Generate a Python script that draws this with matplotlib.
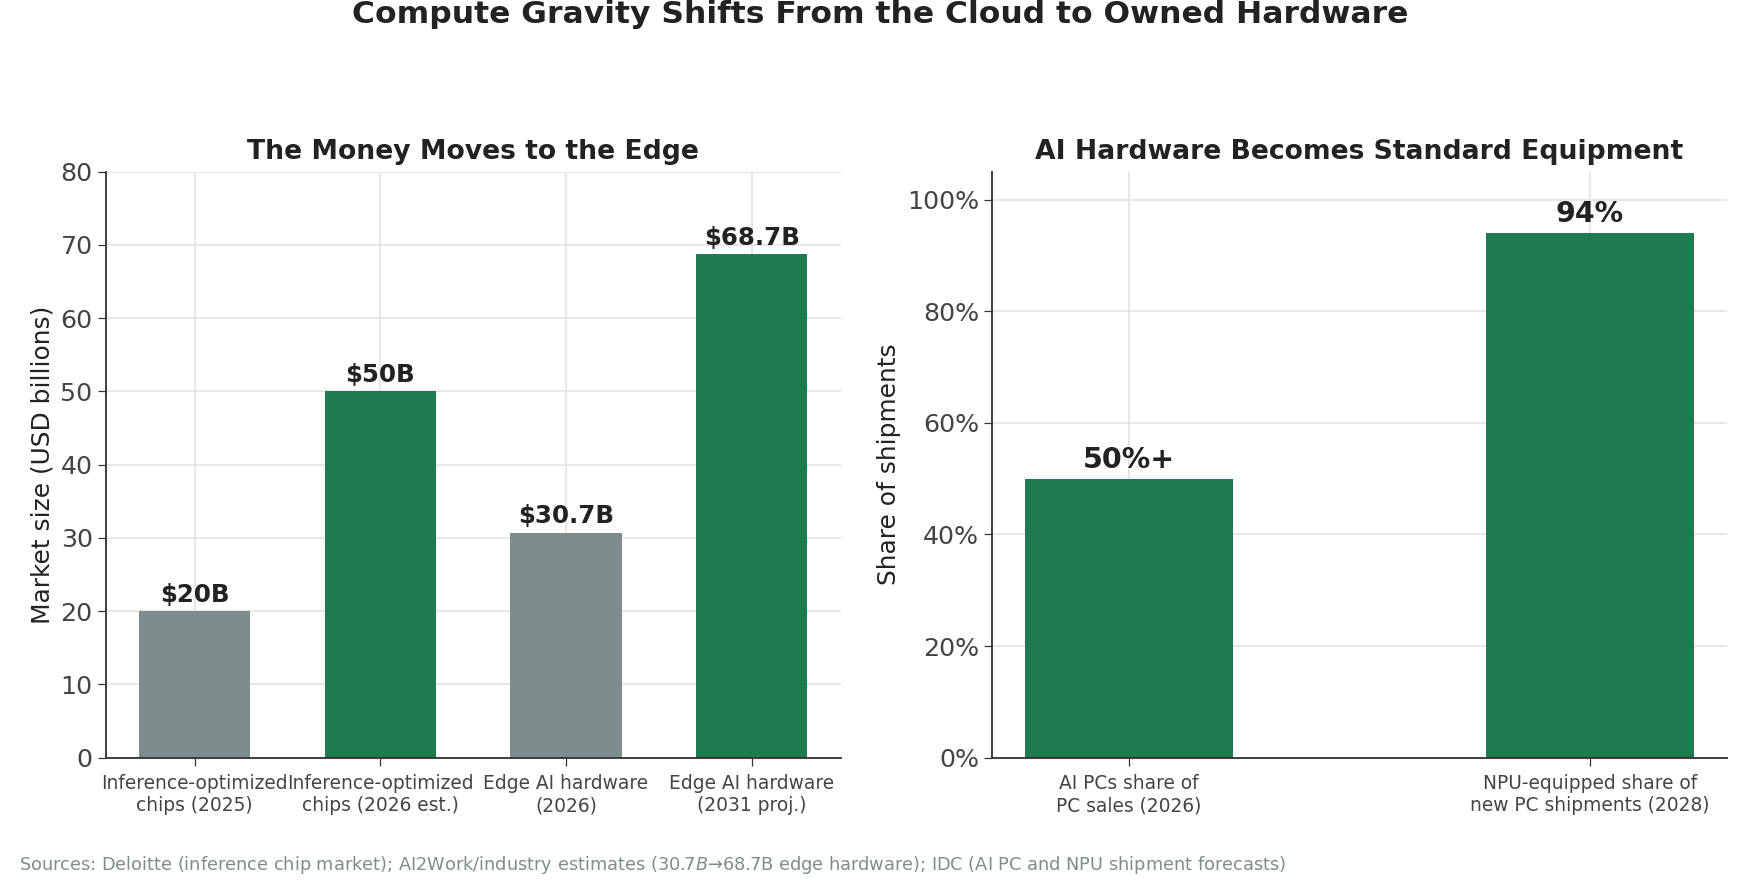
import matplotlib
matplotlib.use("Agg")
import matplotlib.pyplot as plt
from matplotlib.ticker import PercentFormatter

# left panel: market size
market_labels = ["Inference-optimized\nchips (2025)", "Inference-optimized\nchips (2026 est.)",
                 "Edge AI hardware\n(2026)", "Edge AI hardware\n(2031 proj.)"]
market_values = [20, 50, 30.7, 68.7]
market_text = ["$20B", "$50B", "$30.7B", "$68.7B"]
market_kind = ["now", "future", "now", "future"]

# right panel: share of shipments
share_labels = ["AI PCs share of\nPC sales (2026)", "NPU-equipped share of\nnew PC shipments (2028)"]
share_values = [50, 94]
share_text = ["50%+", "94%"]

GREEN = "#1e7b50"
GRAY = "#7f8c8d"
DARK = "#222222"
TICK = "#444444"
palette = {"now": GRAY, "future": GREEN}

fig = plt.figure(figsize=(16, 8), dpi=110)
ax1 = fig.add_axes([0.06, 0.139, 0.4177, 0.666])
ax2 = fig.add_axes([0.5636, 0.139, 0.4177, 0.666])

fig.text(0.5, 0.983, "Compute Gravity Shifts From the Cloud to Owned Hardware",
         ha="center", va="center", fontsize=20.5, fontweight="bold", color=DARK)


def style(ax):
    ax.set_axisbelow(True)
    ax.grid(True, color="#e0e0e0", linewidth=1)
    for s in ("top", "right"):
        ax.spines[s].set_visible(False)
    for s in ("left", "bottom"):
        ax.spines[s].set_color("#333333")
        ax.spines[s].set_linewidth(1.2)
    ax.tick_params(axis="y", labelsize=16.5, labelcolor=TICK, color="#333333", length=5)
    ax.tick_params(axis="x", labelsize=12.2, labelcolor=TICK, color="#333333", length=5, pad=6)


# left
xs = range(len(market_values))
ax1.bar(xs, market_values, width=0.6, color=[palette[k] for k in market_kind])
for x, v, t in zip(xs, market_values, market_text):
    ax1.annotate(t.replace("$", r"\$"), (x, v), xytext=(0, 3), textcoords="offset points",
                 ha="center", va="bottom", fontsize=16, fontweight="bold", color=DARK)
ax1.set_xticks(list(xs))
ax1.set_xticklabels(market_labels)
ax1.set_ylim(0, 80)
ax1.set_yticks(range(0, 81, 10))
ax1.set_ylabel("Market size (USD billions)", fontsize=16.3, color=DARK)
ax1.set_title("The Money Moves to the Edge", fontsize=17.4, fontweight="bold", color=DARK, pad=8)
style(ax1)

# right
xs2 = range(len(share_values))
ax2.bar(xs2, share_values, width=0.45, color=GREEN)
for x, v, t in zip(xs2, share_values, share_text):
    ax2.annotate(t, (x, v), xytext=(0, 3), textcoords="offset points",
                 ha="center", va="bottom", fontsize=18.7, fontweight="bold", color=DARK)
ax2.set_xticks(list(xs2))
ax2.set_xticklabels(share_labels)
ax2.set_ylim(0, 105)
ax2.set_yticks(range(0, 101, 20))
ax2.yaxis.set_major_formatter(PercentFormatter(decimals=0))
ax2.set_ylabel("Share of shipments", fontsize=16.3, color=DARK)
ax2.set_title("AI Hardware Becomes Standard Equipment", fontsize=17.4, fontweight="bold",
              color=DARK, pad=8)
style(ax2)

fig.text(0.011, 0.017, "Sources: Deloitte (inference chip market); AI2Work/industry estimates "
         "($30.7B→$68.7B edge hardware); IDC (AI PC and NPU shipment forecasts)",
         ha="left", va="center", fontsize=11.6, color="#7f8c8d")

fig.savefig("out.png", dpi=110)
